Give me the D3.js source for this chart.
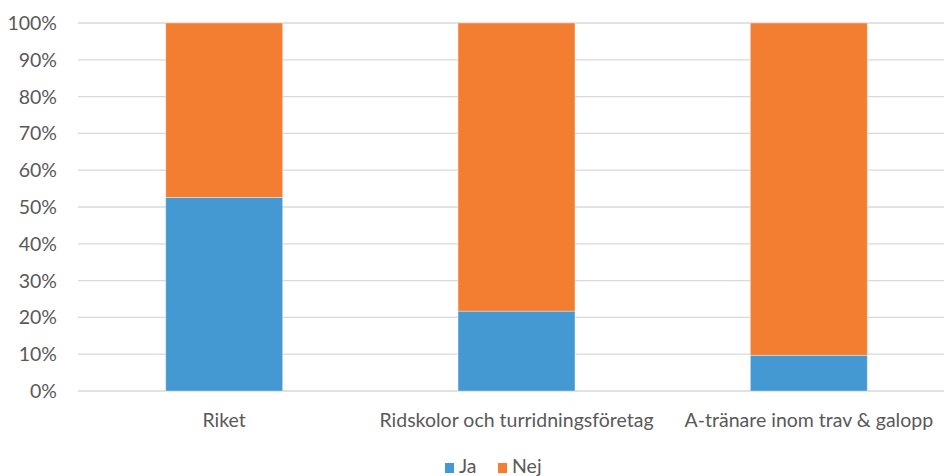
<!DOCTYPE html>
<html><head><meta charset="utf-8">
<script src="https://cdn.jsdelivr.net/npm/d3@7"></script>
<style>body{margin:0;background:#fff}svg{display:block}text{font-family:Lato,"Open Sans",sans-serif;fill:#595959}</style>
</head><body><svg id="c" width="944" height="476"></svg>
<script>
const categories = ["Riket", "Ridskolor och turridningsföretag", "A-tränare inom trav & galopp"];
const ja = [52.6, 21.7, 9.7];
const nej = [47.4, 78.3, 90.3];
const seriesNames = ["Ja", "Nej"];
const colors = ["#4499D3", "#F37E31"];
const yTicks = [0,10,20,30,40,50,60,70,80,90,100];

const svg = d3.select("#c");
const x = d3.scaleBand().domain(categories).range([78, 955]).paddingInner(0.6).paddingOuter(0.3);
const y = d3.scaleLinear().domain([0,100]).range([391, 23]);

svg.append("g").selectAll("line").data(yTicks).join("line")
  .attr("x1", 78).attr("x2", 944)
  .attr("y1", d=>y(d)).attr("y2", d=>y(d))
  .attr("stroke", "#D9D9D9").attr("stroke-width", 1.3);

const yAxis = d3.axisLeft(y).tickValues(yTicks).tickFormat(d=>d+"%").tickSize(0).tickPadding(0);
const ya = svg.append("g").attr("transform","translate(57,0)").call(yAxis);
ya.select(".domain").remove();
ya.selectAll("text").style("font-size","19.5px").attr("fill","#595959").style("font-family","Lato, sans-serif").attr("dy","0.33em");

const rows = categories.map((c,i)=>({cat:c, Ja:ja[i], Nej:nej[i]}));
const stack = d3.stack().keys(seriesNames)(rows);
svg.append("g").selectAll("g").data(stack).join("g")
  .attr("fill",(d,i)=>colors[i])
  .selectAll("rect").data(d=>d).join("rect")
  .attr("x", d=>x(d.data.cat)).attr("width", x.bandwidth())
  .attr("y", d=>y(d[1])).attr("height", d=>y(d[0])-y(d[1]))
  .attr("stroke","#fff").attr("stroke-opacity",0.35).attr("stroke-width",1);

const xAxis = d3.axisBottom(x).tickSize(0).tickPadding(0);
const xa = svg.append("g").attr("transform","translate(0,413)").call(xAxis);
xa.select(".domain").remove();
xa.selectAll("text").style("font-size","19.5px").attr("fill","#595959").style("font-family","Lato, sans-serif");

const lg = svg.append("g");
const legX = [445, 498];
seriesNames.forEach((s,i)=>{
  lg.append("rect").attr("x",legX[i]).attr("y",463).attr("width",9).attr("height",10).attr("fill",colors[i]);
  lg.append("text").attr("x",legX[i]+14).attr("y",473).style("font-size","19.5px").text(s);
});
</script></body></html>
